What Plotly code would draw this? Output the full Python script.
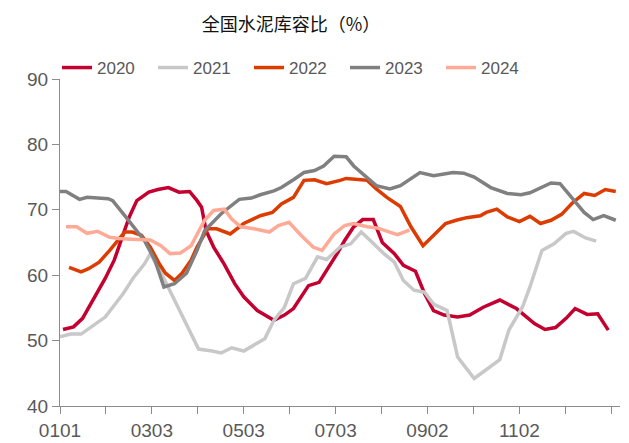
import pandas as pd
import plotly.graph_objects as go

# All years are drawn on a common calendar (2023) so that they overlay.
BASE_YEAR = "2023"

DATES_2020 = ["0103","0110","0116","0123","0131","0206","0212","0216","0221","0301","0307","0314",
              "0321","0328","0402","0405","0408","0413","0420","0427","0503","0512","0523","0530",
              "0605","0610","0615","0622","0627","0704","0709","0715","0721","0728","0803","0811",
              "0817","0825","0831","0906","0913","0922","0930","1009","1020","1031","1112","1119",
              "1126","1203","1209","1217","1224","1231"]
VALUES_2020 = [51.7,52.1,53.4,56.2,59.5,62.3,66.3,68.9,71.4,72.7,73.1,73.4,
               72.7,72.8,71.4,70.4,66.8,64.3,61.7,58.7,56.7,54.6,53.1,53.9,
               54.9,56.7,58.4,58.9,60.7,63.3,65.3,67.4,68.5,68.5,65.0,63.3,
               61.5,60.6,57.2,54.6,53.9,53.6,53.9,55.1,56.2,54.9,52.6,51.7,
               52.0,53.4,54.9,54.0,54.1,51.6]

DATES_2021 = ["0101","0108","0115","0123","0131","0205","0212","0219","0226","0302","0311","0321",
              "0403","0412","0418","0425","0503","0517","0523","0530","0605","0613","0621","0627",
              "0706","0713","0720","0726","0804","0811","0817","0824","0831","0906","0915","0922",
              "1003","1020","1026","1104","1109","1117","1125","1203","1208","1216","1223"]
VALUES_2021 = [50.6,51.0,51.0,52.3,53.6,55.1,57.2,59.7,61.7,63.3,59.5,54.8,
               48.7,48.4,48.1,48.9,48.4,50.3,53.1,55.1,58.7,59.5,62.8,62.4,
               64.3,64.8,66.6,65.3,63.3,62.0,59.2,57.7,57.4,55.6,54.6,47.5,
               44.2,47.1,51.6,55.1,58.2,63.8,64.8,66.4,66.7,65.7,65.2]

DATES_2022 = ["0107","0115","0120","0127","0203","0208","0213","0218","0224","0302","0308","0312",
              "0318","0323","0329","0402","0409","0415","0424","0503","0514","0522","0528","0605",
              "0612","0619","0627","0706","0710","0720","0724","0730","0806","0815","0822","0830",
              "0906","0914","0921","0928","1007","1011","1018","1025","1102","1109","1116","1123",
              "1130","1207","1215","1222","1229","+0105"]
VALUES_2022 = [61.2,60.5,61.0,62.0,63.8,65.3,66.6,66.6,66.1,64.3,61.7,60.3,
               59.2,60.3,62.3,64.3,67.1,67.1,66.3,67.9,69.1,69.6,70.9,71.9,
               74.5,74.6,74.0,74.5,74.8,74.6,74.5,73.2,71.9,70.5,67.4,64.5,
               66.1,67.9,68.4,68.8,69.1,69.6,70.1,68.9,68.2,69.0,67.9,68.4,
               69.3,71.0,72.5,72.2,73.1,72.8]

DATES_2023 = ["0101","0105","0114","0119","0202","0205","0213","0226","0305","0311","0318","0326",
              "0402","0407","0418","0430","0508","0514","0523","0528","0605","0612","0619","0625",
              "0702","0710","0715","0724","0730","0808","0815","0828","0906","0919","0926","1003",
              "1014","1025","1103","1109","1116","1123","1129","1208","1215","1221","1228","+0105"]
VALUES_2023 = [72.8,72.8,71.6,71.9,71.7,71.4,69.1,65.3,62.3,58.2,58.7,60.3,
               63.8,66.8,69.4,71.6,71.8,72.3,72.9,73.4,74.6,75.7,76.0,76.7,
               78.2,78.1,76.7,75.0,73.7,73.2,73.7,75.7,75.2,75.7,75.6,75.0,
               73.4,72.5,72.3,72.6,73.4,74.1,74.0,71.6,69.6,68.5,69.1,68.4]

DATES_2024 = ["0105","0112","0119","0126","0203","0209","0217","0302","0309","0315","0322","0329",
              "0407","0413","0420","0425","0501","0510","0520","0526","0602","0610","0618","0624",
              "0702","0709","0715","0724","0731","0806","0813","0821"]
VALUES_2024 = [67.4,67.4,66.4,66.7,65.8,65.6,65.5,65.4,64.5,63.3,63.4,64.5,
               68.4,69.9,70.1,68.6,67.4,67.1,66.6,67.6,68.1,66.1,64.3,63.8,
               66.3,67.6,67.9,67.4,67.2,66.8,66.2,66.9]

SERIES_NAMES = ["2020", "2021", "2022", "2023", "2024"]
SERIES_DATES = [DATES_2020, DATES_2021, DATES_2022, DATES_2023, DATES_2024]
SERIES_VALUES = [VALUES_2020, VALUES_2021, VALUES_2022, VALUES_2023, VALUES_2024]
SERIES_COLORS = ["#C3002F", "#C8C8C8", "#DC3C00", "#808080", "#FFAA96"]

TICK_LABELS = ["0101", "0303", "0503", "0703", "0902", "1102"]
TITLE = "全国水泥库容比（%）"
Y_RANGE = [40, 90]
Y_TICKS = [40, 50, 60, 70, 80, 90]


def to_date(mmdd):
    # "+MMDD" means the date falls in the following year on the common calendar
    if mmdd.startswith("+"):
        return pd.Timestamp(f"{int(BASE_YEAR) + 1}-{mmdd[1:3]}-{mmdd[3:5]}")
    return pd.Timestamp(f"{BASE_YEAR}-{mmdd[0:2]}-{mmdd[2:4]}")


fig = go.Figure()
for name, dates, vals, color in zip(SERIES_NAMES, SERIES_DATES, SERIES_VALUES, SERIES_COLORS):
    fig.add_trace(go.Scatter(
        x=[to_date(d) for d in dates], y=vals, name=name, mode="lines",
        line=dict(color=color, width=3.5),
    ))

start = to_date(TICK_LABELS[0])
major_vals = [to_date(t) for t in TICK_LABELS]
minor_vals = [start + pd.Timedelta(days=30.5 * k) for k in range(13)]
x_end = start + pd.Timedelta(days=371.8)

AXIS_COLOR = "#8C8C8C"
TEXT_COLOR = "#595959"

fig.update_layout(
    width=629, height=443,
    margin=dict(l=60, r=9, t=79, b=37, autoexpand=False),
    paper_bgcolor="white", plot_bgcolor="white",
    title=dict(text=TITLE, x=291 / 629, xanchor="center", xref="container",
               y=1 - 25 / 443, yanchor="middle", yref="container",
               font=dict(family="Noto Sans CJK SC", size=18, color="#111111")),
    showlegend=True,
    legend=dict(orientation="h", xref="container", x=57 / 629, xanchor="left",
                yref="container", y=1 - 68 / 443, yanchor="middle",
                entrywidth=51, font=dict(family="Liberation Sans, Arial", size=17, color=TEXT_COLOR),
                bgcolor="rgba(0,0,0,0)", itemclick=False),
    xaxis=dict(
        type="date", range=[start, x_end],
        tickmode="array", tickvals=major_vals, ticktext=TICK_LABELS,
        ticks="outside", ticklen=7, tickcolor=AXIS_COLOR, tickwidth=1.3,
        minor=dict(tickmode="array", tickvals=minor_vals, ticks="outside", ticklen=7,
                   tickcolor=AXIS_COLOR, tickwidth=1.3, showgrid=False),
        showline=True, linecolor=AXIS_COLOR, linewidth=1.3,
        showgrid=False, zeroline=False,
        tickfont=dict(family="Liberation Sans, Arial", size=19, color=TEXT_COLOR),
    ),
    yaxis=dict(
        range=Y_RANGE, tickmode="array", tickvals=Y_TICKS,
        ticks="outside", ticklen=7, tickcolor=AXIS_COLOR, tickwidth=1.3,
        showline=True, linecolor=AXIS_COLOR, linewidth=1.3,
        showgrid=False, zeroline=False,
        tickfont=dict(family="Liberation Sans, Arial", size=19, color=TEXT_COLOR),
    ),
)

fig.write_html("out.html", config={"displayModeBar": False},
               post_script="document.body.style.margin='0px';")
